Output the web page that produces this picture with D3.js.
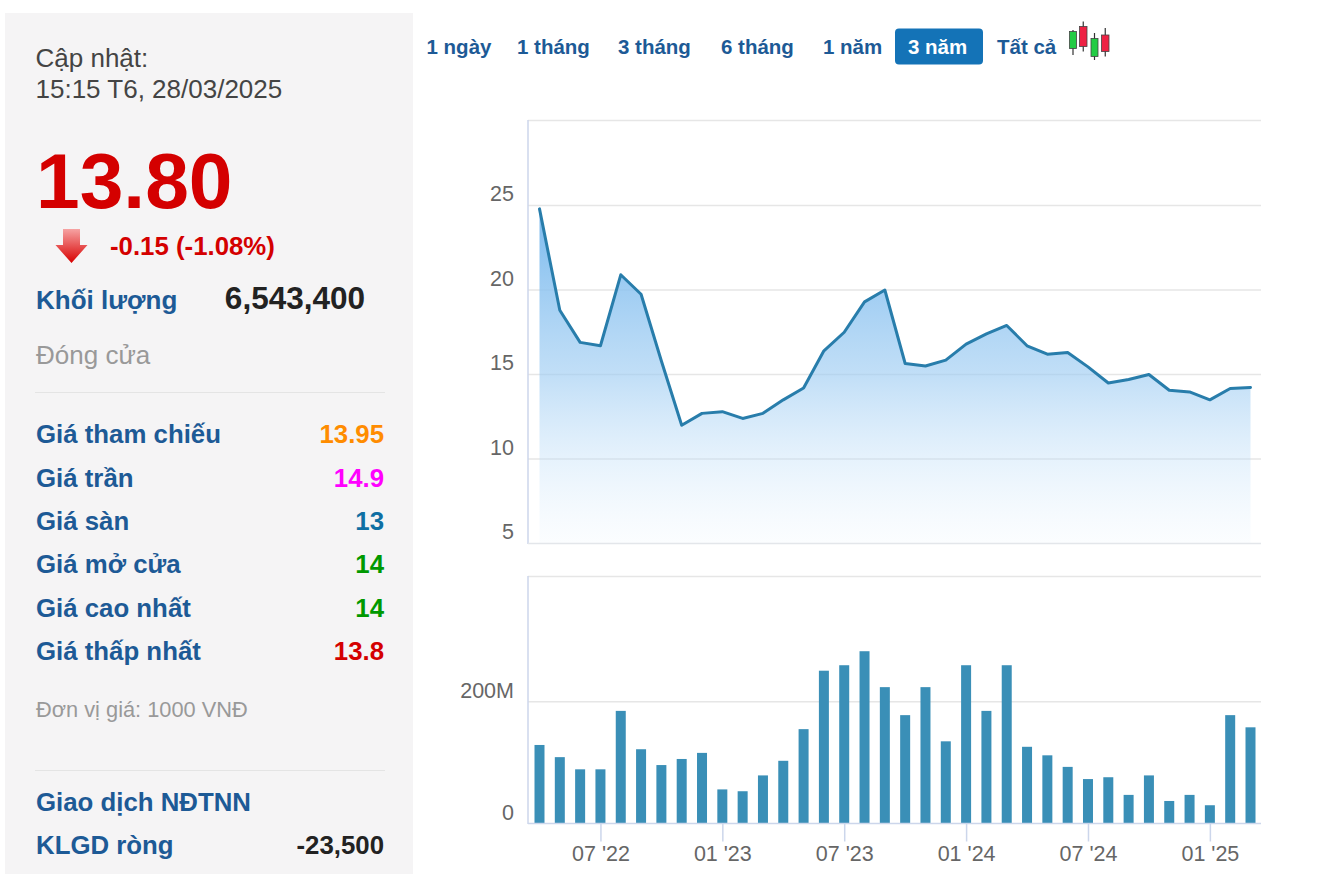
<!DOCTYPE html>
<html>
<head>
<meta charset="utf-8">
<script src="https://cdn.jsdelivr.net/npm/d3@7/dist/d3.min.js"></script>
<style>
  html, body { margin: 0; padding: 0; background: #ffffff; }
  svg { display: block; font-family: "Liberation Sans", Arial, Helvetica, sans-serif; }
</style>
</head>
<body>
<svg id="chart" width="1324" height="874"></svg>
<script>
// ---- data ----
const categories = ["04/22","05/22","06/22","07/22","08/22","09/22","10/22","11/22","12/22",
  "01/23","02/23","03/23","04/23","05/23","06/23","07/23","08/23","09/23","10/23","11/23","12/23",
  "01/24","02/24","03/24","04/24","05/24","06/24","07/24","08/24","09/24","10/24","11/24","12/24",
  "01/25","02/25","03/25"];
const prices = [24.8, 18.8, 16.9, 16.7, 20.9, 19.75, 15.8, 12.0, 12.7, 12.8, 12.4, 12.7,
  13.5, 14.2, 16.4, 17.5, 19.3, 20.0, 15.65, 15.5, 15.85, 16.8, 17.4, 17.9,
  16.7, 16.2, 16.3, 15.45, 14.5, 14.7, 15.0, 14.07, 13.97, 13.5, 14.17, 14.23];
const volumes = [129, 109, 89, 89, 185, 122, 96, 106, 116, 56, 53, 79,
  103, 155, 251, 260, 283, 224, 178, 224, 135, 260, 185, 260,
  126, 112, 93, 73, 76, 47, 79, 37, 47, 30, 178, 158]; // millions
const priceTicks = [5, 10, 15, 20, 25];
const volumeTicks = [0, 200];
const xTickCats = ["07/22","01/23","07/23","01/24","07/24","01/25"];
const xTickLabels = ["07 '22","01 '23","07 '23","01 '24","07 '24","01 '25"];
const rangeButtons = ["1 ngày","1 tháng","3 tháng","6 tháng","1 năm","3 năm","Tất cả"];
const activeButton = "3 năm";
const infoHeader = ["Cập nhật:", "15:15 T6, 28/03/2025"];
const lastPrice = "13.80";
const change = "-0.15 (-1.08%)";
const volumeLabel = "Khối lượng", volumeValue = "6,543,400";
const statusLabel = "Đóng cửa";
const statLabels = ["Giá tham chiếu","Giá trần","Giá sàn","Giá mở cửa","Giá cao nhất","Giá thấp nhất"];
const statValues = ["13.95","14.9","13","14","14","13.8"];
const unitNote = "Đơn vị giá: 1000 VNĐ";
const foreignTitle = "Giao dịch NĐTNN";
const foreignLabel = "KLGD ròng", foreignValue = "-23,500";

// ---- styling ----
const BLUE = "#1d5a96";
const statColors = ["#ff8c00","#ff00ff","#0f6fa3","#009900","#009900","#d40000"];

const svg = d3.select("#chart");
const defs = svg.append("defs");

// ---- left info panel ----
svg.append("rect").attr("x", 5).attr("y", 13).attr("width", 408).attr("height", 861).attr("fill", "#f5f4f5");

const panel = svg.append("g");
panel.selectAll("text.hdr").data(infoHeader).join("text")
  .attr("class","hdr").attr("x", 35.5).attr("y", (d,i) => 66.5 + i*31)
  .attr("font-size", 26).attr("fill", "#444").text(d => d);

panel.append("text").attr("x", 36).attr("y", 208).attr("font-size", 78.5).attr("font-weight", "bold")
  .attr("fill", "#d40000").text(lastPrice);

const ag = defs.append("linearGradient").attr("id","arrowGrad").attr("x1",0).attr("y1",0).attr("x2",0).attr("y2",1);
ag.append("stop").attr("offset","0%").attr("stop-color","#f6a3a3");
ag.append("stop").attr("offset","100%").attr("stop-color","#d80000");
panel.append("path").attr("d","M63,229 L80,229 L80,245 L87.5,245 L71.5,263 L55.5,245 L63,245 Z")
  .attr("fill","url(#arrowGrad)");

panel.append("text").attr("x", 110).attr("y", 255).attr("font-size", 25.8).attr("font-weight","bold")
  .attr("fill","#d40000").text(change);

panel.append("text").attr("x", 36).attr("y", 308.5).attr("font-size", 26).attr("font-weight","bold")
  .attr("fill", BLUE).text(volumeLabel);
panel.append("text").attr("x", 365).attr("y", 308.5).attr("text-anchor","end").attr("font-size", 31.5)
  .attr("font-weight","bold").attr("fill","#222").text(volumeValue);

panel.append("text").attr("x", 36).attr("y", 364).attr("font-size", 26).attr("fill","#999").text(statusLabel);
panel.append("line").attr("x1",35).attr("x2",385).attr("y1",392.5).attr("y2",392.5).attr("stroke","#e4e4e4");

const rows = panel.selectAll("g.row").data(statLabels).join("g").attr("class","row")
  .attr("transform", (d,i) => `translate(0,${443.3 + i*43.35})`);
rows.append("text").attr("x",36).attr("font-size",25.8).attr("font-weight","bold").attr("fill",BLUE).text(d => d);
rows.append("text").attr("x",384).attr("text-anchor","end").attr("font-size",25.8).attr("font-weight","bold")
  .attr("fill",(d,i) => statColors[i]).text((d,i) => statValues[i]);

panel.append("text").attr("x",36).attr("y",716.5).attr("font-size",21.8).attr("fill","#999").text(unitNote);
panel.append("line").attr("x1",35).attr("x2",385).attr("y1",770.5).attr("y2",770.5).attr("stroke","#e4e4e4");
panel.append("text").attr("x",36).attr("y",810.5).attr("font-size",25.8).attr("font-weight","bold").attr("fill",BLUE).text(foreignTitle);
panel.append("text").attr("x",36).attr("y",854).attr("font-size",25.8).attr("font-weight","bold").attr("fill",BLUE).text(foreignLabel);
panel.append("text").attr("x",384).attr("y",854).attr("text-anchor","end").attr("font-size",25.8).attr("font-weight","bold").attr("fill","#222").text(foreignValue);

// ---- range selector buttons ----
const btnX = [426.5, 517, 618, 721, 823, 908, 997];
const btns = svg.append("g");
btns.append("rect").attr("x", 895).attr("y", 28.5).attr("width", 88).attr("height", 36).attr("rx", 4)
  .attr("fill", "#1473b7");
btns.selectAll("text").data(rangeButtons).join("text")
  .attr("x", (d,i) => btnX[i]).attr("y", 53.5).attr("font-size", 20.5).attr("font-weight","bold")
  .attr("fill", d => d === activeButton ? "#ffffff" : BLUE).text(d => d);

// candlestick icon
const candles = [
  {x:1069.5, w:7, wick:[30,55], body:[31.5,48.5], c:"#22cc44"},
  {x:1079.5, w:7.5, wick:[21.5,51.5], body:[26.5,46.5], c:"#ee2244"},
  {x:1091, w:7, wick:[33,60], body:[38.5,56.5], c:"#22cc44"},
  {x:1101.5, w:7.5, wick:[28,56.5], body:[35,51.5], c:"#ee2244"}
];
const icon = svg.append("g");
candles.forEach(c => {
  icon.append("line").attr("x1", c.x + c.w/2).attr("x2", c.x + c.w/2).attr("y1", c.wick[0]).attr("y2", c.wick[1])
    .attr("stroke", "#333").attr("stroke-width", 1.2);
  icon.append("rect").attr("x", c.x).attr("y", c.body[0]).attr("width", c.w).attr("height", c.body[1]-c.body[0])
    .attr("fill", c.c).attr("stroke", "#444").attr("stroke-width", 0.8);
});

// ---- scales ----
const plotL = 528, plotR = 1261;
const x = d3.scalePoint().domain(categories).range([539.5, 1250.5]);
const yP = d3.scaleLinear().domain([5, 30]).range([543.5, 121]);
const yV = d3.scaleLinear().domain([0, 400]).range([823.5, 580]);

const AXIS_LINE = "#ccd6eb", GRID = "#e6e6e6", LABEL = "#666";

// ---- price chart ----
const pg = svg.append("g");
pg.append("line").attr("x1", plotL).attr("x2", plotR).attr("y1", 120.5).attr("y2", 120.5).attr("stroke", GRID).attr("stroke-width", 1.5);
pg.selectAll("line.grid").data(priceTicks.filter(t => t !== 5)).join("line").attr("class","grid")
  .attr("x1", plotL).attr("x2", plotR).attr("y1", d => yP(d)).attr("y2", d => yP(d))
  .attr("stroke", GRID).attr("stroke-width", 1.5);

const grad = defs.append("linearGradient").attr("id","areaGrad").attr("x1",0).attr("y1",0).attr("x2",0).attr("y2",1);
grad.append("stop").attr("offset","0%").attr("stop-color","#7bbaee").attr("stop-opacity",1);
grad.append("stop").attr("offset","50%").attr("stop-color","#9ccbf2").attr("stop-opacity",0.62);
grad.append("stop").attr("offset","100%").attr("stop-color","#d8ecfc").attr("stop-opacity",0.1);

const area = d3.area().x((d,i) => x(categories[i])).y0(yP(5)).y1(d => yP(d));
pg.append("path").datum(prices).attr("d", area).attr("fill", "url(#areaGrad)");
const line = d3.line().x((d,i) => x(categories[i])).y(d => yP(d));
pg.append("path").datum(prices).attr("d", line).attr("fill","none").attr("stroke","#287dab")
  .attr("stroke-width", 3).attr("stroke-linejoin","round").attr("stroke-linecap","round");

pg.append("line").attr("x1", plotL).attr("x2", plotL).attr("y1", 120).attr("y2", 544).attr("stroke", AXIS_LINE).attr("stroke-width", 1.5);
pg.append("line").attr("x1", plotL).attr("x2", plotR).attr("y1", 543.5).attr("y2", 543.5).attr("stroke", "#e3e6ea").attr("stroke-width", 1.5);

const yAxisP = pg.append("g").attr("transform", `translate(${plotL},0)`)
  .call(d3.axisLeft(yP).tickValues(priceTicks).tickSize(0).tickPadding(14));
yAxisP.select(".domain").remove();
yAxisP.selectAll("text").attr("dy", -5).attr("font-size", 21.5).attr("fill", LABEL)
  .attr("font-family", "Liberation Sans, Arial, sans-serif");

// ---- volume chart ----
const vg = svg.append("g");
vg.append("line").attr("x1", plotL).attr("x2", plotR).attr("y1", 576.5).attr("y2", 576.5).attr("stroke", GRID).attr("stroke-width", 1.5);
vg.selectAll("line.grid").data(volumeTicks.filter(t => t > 0)).join("line").attr("class","grid")
  .attr("x1", plotL).attr("x2", plotR).attr("y1", d => yV(d)).attr("y2", d => yV(d))
  .attr("stroke", GRID).attr("stroke-width", 1.5);

vg.selectAll("rect.bar").data(volumes).join("rect").attr("class","bar")
  .attr("x", (d,i) => x(categories[i]) - 5).attr("width", 10)
  .attr("y", d => yV(d)).attr("height", d => yV(0) - yV(d))
  .attr("fill", "#3a8fb7");

vg.append("line").attr("x1", plotL).attr("x2", plotL).attr("y1", 576).attr("y2", 824).attr("stroke", AXIS_LINE).attr("stroke-width", 1.5);

const yAxisV = vg.append("g").attr("transform", `translate(${plotL},0)`)
  .call(d3.axisLeft(yV).tickValues(volumeTicks).tickSize(0).tickPadding(14).tickFormat(d => d === 0 ? "0" : d + "M"));
yAxisV.select(".domain").remove();
yAxisV.selectAll("text").attr("dy", -4).attr("font-size", 21.5).attr("fill", LABEL)
  .attr("font-family", "Liberation Sans, Arial, sans-serif");

const xAxis = vg.append("g").attr("transform", `translate(0,${yV(0)})`)
  .call(d3.axisBottom(x).tickValues(xTickCats).tickSize(18).tickFormat((d) => xTickLabels[xTickCats.indexOf(d)]));
xAxis.select(".domain").attr("d", `M${plotL},0H${plotR}`).attr("stroke", AXIS_LINE).attr("stroke-width", 1.5);
xAxis.selectAll(".tick line").attr("stroke", AXIS_LINE).attr("stroke-width", 1.5);
xAxis.selectAll("text").attr("y", 37).attr("dy", 0).attr("font-size", 21.5).attr("fill", LABEL)
  .attr("font-family", "Liberation Sans, Arial, sans-serif");
</script>
</body>
</html>
